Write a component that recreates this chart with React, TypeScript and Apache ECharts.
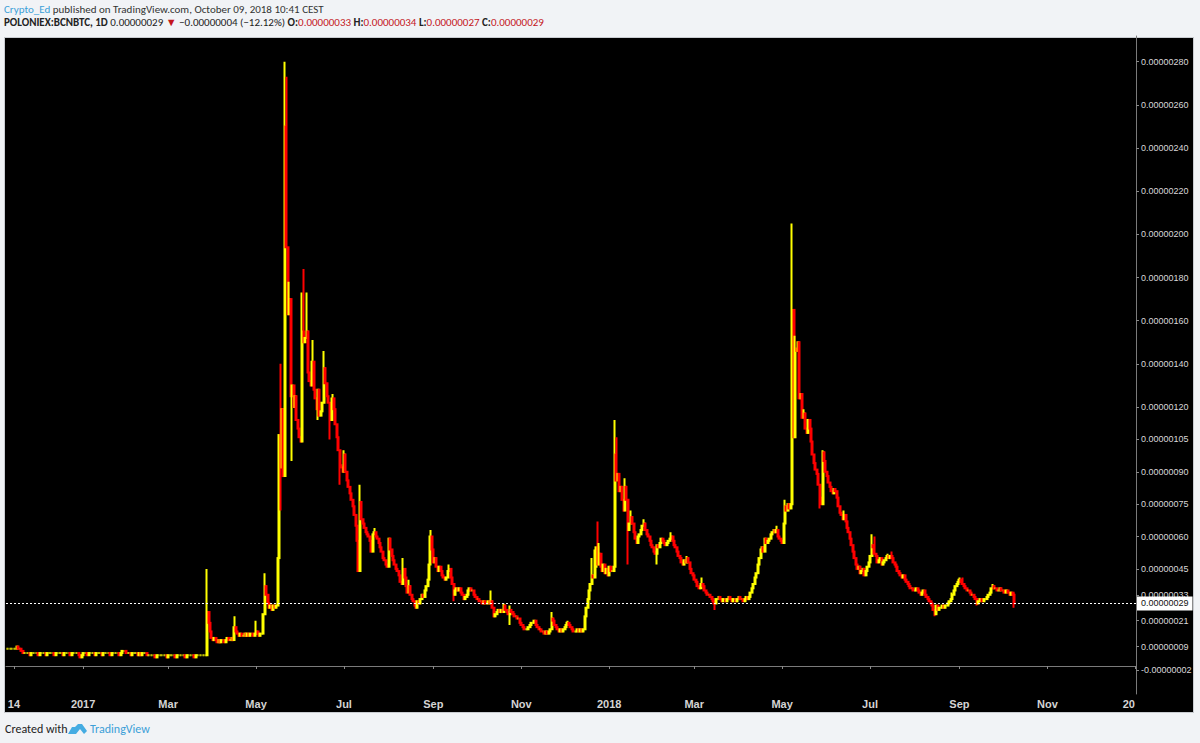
import React, { useEffect, useRef } from 'react';
import * as echarts from 'echarts';

// ---- data (prices in satoshi, 1 = 0.00000001 BTC), daily from 2016-11-09 ----
const START_UTC = Date.UTC(2016, 10, 9);
const CATEGORY_COUNT = 784; // through 2019-01-01 (empty right margin like the source)

const closes = [
  8,8,8,8,8,8,8,9,8,8,
  7,6,6,6,6,6,5,6,6,6,
  6,6,5,6,6,6,6,5,6,6,
  6,6,6,5,6,6,6,6,6,5,
  6,6,6,6,5,6,6,6,6,6,
  5,4,5,6,6,6,5,6,6,6,
  6,5,6,6,6,6,5,6,6,6,
  6,6,5,6,6,6,6,6,5,6,
  7,7,7,6,6,6,5,6,6,6,
  6,5,6,5,6,6,6,5,5,5,
  5,5,5,4,5,5,5,5,5,5,
  5,4,5,5,5,5,5,4,5,5,
  5,5,5,5,4,5,5,5,5,5,
  4,5,5,5,5,5,5,5,5,25,
  20,16,13,12,13,12,11,12,11,12,
  12,11,12,13,12,12,13,12,18,16,
  15,14,15,14,14,15,14,15,14,15,
  15,14,15,16,15,14,15,15,24,37,
  33,29,27,28,26,28,27,28,50,107,
  92,119,88,250,194,163,170,125,130,120,
  125,114,110,106,104,155,150,152,155,136,
  132,130,141,128,124,119,128,116,118,122,
  138,131,125,122,118,114,124,119,112,106,
  100,93,92,90,98,90,86,83,80,77,
  74,70,65,58,44,76,68,66,64,62,
  61,60,58,53,61,62,60,59,57,55,
  53,50,49,47,46,59,54,51,49,47,
  45,44,42,39,38,45,41,37,34,37,
  33,31,30,28,27,30,29,31,33,32,
  35,37,40,47,60,54,48,50,46,44,
  46,44,42,41,40,41,44,45,41,38,
  33,35,36,35,36,34,33,31,32,33,
  35,36,35,35,33,32,31,31,30,30,
  29,30,29,29,30,29,30,27,23,24,
  25,26,25,26,25,28,26,25,24,26,
  25,24,23,23,22,22,20,19,18,17,
  17,17,18,19,20,20,21,19,18,17,
  17,16,16,15,16,15,16,17,22,21,
  19,18,17,16,17,16,17,18,19,20,
  19,18,17,16,16,16,17,16,17,16,
  17,23,27,31,35,38,42,41,46,55,
  47,52,46,44,47,43,45,42,46,44,
  44,46,98,86,89,81,83,77,72,83,
  77,63,66,69,66,62,59,57,60,61,
  63,65,66,63,61,60,58,56,55,53,
  52,56,55,57,59,58,57,56,57,58,
  59,60,58,56,55,53,51,50,48,47,
  49,48,50,48,45,43,42,40,39,37,
  36,36,38,37,35,34,33,33,32,31,
  30,29,31,31,32,31,30,31,31,30,
  31,32,31,30,31,31,30,31,32,31,
  31,30,31,32,31,32,34,36,38,41,
  43,47,50,54,55,53,59,57,58,59,
  61,62,63,62,63,60,59,58,57,66,
  74,72,75,73,75,165,106,147,146,150,
  124,126,115,117,110,108,114,110,104,98,
  94,91,89,84,78,75,99,95,90,88,
  85,83,81,80,82,81,78,74,71,70,
  68,70,67,64,62,59,56,53,50,47,
  45,46,43,44,45,42,44,46,48,51,
  56,55,52,51,48,49,50,47,48,49,
  50,51,50,51,50,48,47,46,44,43,
  42,41,42,40,39,38,37,36,36,35,
  35,36,35,34,33,34,35,33,32,31,
  30,29,28,26,24,28,26,27,27,28,
  27,28,28,29,30,31,33,35,37,38,
  39,40,39,38,37,36,35,35,34,33,
  33,32,31,29,30,31,31,30,31,31,
  32,33,34,36,37,36,36,35,35,36,
  35,35,34,35,35,34,33,34,33,29,
];

// upper wicks [dayIndex, high]
const highWicks = [
  [139,45],[158,23],[173,21],[179,43],[190,140],[193,280],[194,273],[196,178],
  [205,173],[206,184],[208,173],[212,151],[220,146],[226,126],[234,100],[245,84],
  [255,64],[275,50],[279,40],[294,63],[307,47],[336,35],[345,29],[349,28],
  [366,21],[378,25],[389,21],[406,50],[408,54],[410,67],[411,57],[422,114],
  [423,106],[429,87],[433,72],[442,68],[461,62],[472,51],[482,41],[534,65],
  [540,77],[545,205],[547,153],[553,119],[566,100],[581,72],[600,61],[602,60],
  [611,52],[614,53],[656,34],[661,41],[663,41],[684,38],[699,34],
];
// lower wicks [dayIndex, low]
const lowWicks = [
  [190,72],[198,95],[216,114],[224,105],[231,84],[310,30],[349,19],[431,47],
  [451,47],[491,26],[564,73],[644,23],[673,28],[699,27],
];

const xTickDates = ['2016-11-14','2017-01-01','2017-03-01','2017-05-01','2017-07-01','2017-09-01','2017-11-01',
  '2018-01-01','2018-03-01','2018-05-01','2018-07-01','2018-09-01','2018-11-01','2019-01-01'];
const xTickLabels = ['14','2017','Mar','May','Jul','Sep','Nov','2018','Mar','May','Jul','Sep','Nov','20'];

const yTickValues = [280,260,240,220,200,180,160,140,120,105,90,75,60,45,33,21,9,-2];
const lastPrice = 29;

// ---- build ----
function dateOf(i: number) {
  return new Date(START_UTC + i * 86400000).toISOString().slice(0, 10);
}
const categories: string[] = [];
for (let i = 0; i < CATEGORY_COUNT; i++) categories.push(dateOf(i));

const highMap = new Map<number, number>(highWicks.map((p) => [p[0], p[1]] as [number, number]));
const lowMap = new Map<number, number>(lowWicks.map((p) => [p[0], p[1]] as [number, number]));
const ohlc = closes.map((c, i) => {
  const o = i === 0 ? c : closes[i - 1];
  const h = Math.max(o, c, highMap.get(i) ?? -Infinity);
  const l = Math.min(o, c, lowMap.get(i) ?? Infinity);
  return [o, c, l, h];
});

const tickSet = new Map<string, string>(xTickDates.map((d, k) => [d, xTickLabels[k]] as [string, string]));
const fmtPrice = (v: number) => (v / 1e8).toFixed(8);

const UI_FONT = "Carlito, Lato, 'Open Sans', sans-serif";
const AX_FONT = "'Liberation Sans', Arial, sans-serif";

export default function App() {
  const ref = useRef<HTMLDivElement>(null);
  useEffect(() => {
    const chart = echarts.init(ref.current!, null, { renderer: 'svg' });
    chart.setOption({
      animation: false,
      backgroundColor: '#F1F3F6',
      grid: { left: 6, right: 64, top: 36, bottom: 49, outerBoundsMode: 'none' },
      xAxis: {
        type: 'category',
        data: categories,
        boundaryGap: true,
        axisLine: { show: true, lineStyle: { color: '#7a7a7a', width: 1 } },
        axisTick: {
          show: true,
          length: 3,
          alignWithLabel: true,
          interval: (_i: number, v: string) => tickSet.has(v),
          lineStyle: { color: '#8a8a8a' },
        },
        axisLabel: {
          show: true,
          interval: (_i: number, v: string) => tickSet.has(v),
          formatter: (v: string) => {
            const t = tickSet.get(v) || '';
            return t === '20' ? '{clip|20}' : t;
          },
          rich: { clip: { padding: [0, 13, 0, 0], color: '#d4d4d4', fontSize: 11, fontFamily: AX_FONT, fontWeight: 'bold' } },
          color: '#d4d4d4',
          fontSize: 11,
          fontWeight: 'bold',
          fontFamily: AX_FONT,
          margin: 4,
        },
        splitLine: { show: false },
      },
      yAxis: {
        type: 'value',
        position: 'right',
        min: -12.97,
        max: 291.9,
        scale: false,
        axisLine: { show: true, lineStyle: { color: '#7a7a7a', width: 1 } },
        axisTick: { show: true, length: 3, customValues: yTickValues, lineStyle: { color: '#8a8a8a' } },
        axisLabel: {
          show: true,
          customValues: yTickValues,
          formatter: (v: number) => fmtPrice(v),
          color: '#d8d8d8',
          fontSize: 9,
          fontFamily: AX_FONT,
          margin: 5,
        },
        splitLine: { show: false },
      },
      series: [
        {
          type: 'candlestick',
          data: ohlc,
          large: false,
          barWidth: 1.5,
          itemStyle: {
            color: '#FFFF00',
            color0: '#FF0000',
            borderColor: '#FFFF00',
            borderColor0: '#FF0000',
            borderWidth: 2,
          },
          markLine: {
            silent: true,
            symbol: ['none', 'none'],
            data: [{ yAxis: lastPrice }],
            lineStyle: { color: '#ffffff', type: [2, 2], width: 1 },
            label: {
              show: true,
              position: 'end',
              distance: 1,
              formatter: fmtPrice(lastPrice),
              backgroundColor: '#ffffff',
              color: '#111111',
              fontSize: 9,
              fontFamily: AX_FONT,
              padding: [3, 4, 2, 4],
            },
          },
        },
      ],
      graphic: [
        {
          type: 'rect',
          z: -10,
          silent: true,
          shape: { x: 4.5, y: 37.5, width: 1189, height: 675 },
          style: { fill: '#000000', stroke: '#c9ccd1', lineWidth: 1 },
        },
        {
          type: 'text',
          left: 4,
          top: 4,
          style: {
            text: '{u|Crypto_Ed}{t| published on TradingView.com, October 09, 2018 10:41 CEST}',
            fontFamily: UI_FONT,
            fontSize: 11,
            rich: {
              u: { fill: '#3C9FD8', fontFamily: UI_FONT, fontSize: 11 },
              t: { fill: '#333333', fontFamily: UI_FONT, fontSize: 11 },
            },
          },
        },
        {
          type: 'text',
          left: 4,
          top: 17,
          style: {
            text:
              '{b|POLONIEX:BCNBTC, 1D} {t|0.00000029 }{r|▼}{t| −0.00000004 (−12.12%) }{b|O:}{v|0.00000033 }{b|H:}{v|0.00000034 }{b|L:}{v|0.00000027 }{b|C:}{v|0.00000029}',
            fontFamily: UI_FONT,
            fontSize: 11,
            rich: {
              b: { fill: '#222222', fontWeight: 'bold', fontFamily: UI_FONT, fontSize: 11 },
              t: { fill: '#222222', fontFamily: UI_FONT, fontSize: 11 },
              r: { fill: '#C4161C', fontFamily: UI_FONT, fontSize: 11 },
              v: { fill: '#C4161C', fontFamily: UI_FONT, fontSize: 11 },
            },
          },
        },
        {
          type: 'text',
          left: 5,
          top: 723,
          style: { text: 'Created with', fill: '#222222', fontFamily: UI_FONT, fontSize: 12 },
        },
        {
          type: 'polygon',
          silent: true,
          shape: { points: [[68, 734], [72, 727], [75, 727], [78, 724], [82, 724], [87, 731], [84, 734], [80, 729], [76, 734]] },
          style: { fill: '#45ACE2' },
        },
        {
          type: 'text',
          left: 90,
          top: 723,
          style: { text: 'TradingView', fill: '#3C9FD8', fontFamily: UI_FONT, fontSize: 12 },
        },
      ],
    });
    return () => chart.dispose();
  }, []);
  return <div ref={ref} style={{ position: 'fixed', left: 0, top: 0, width: 1200, height: 743 }} />;
}
